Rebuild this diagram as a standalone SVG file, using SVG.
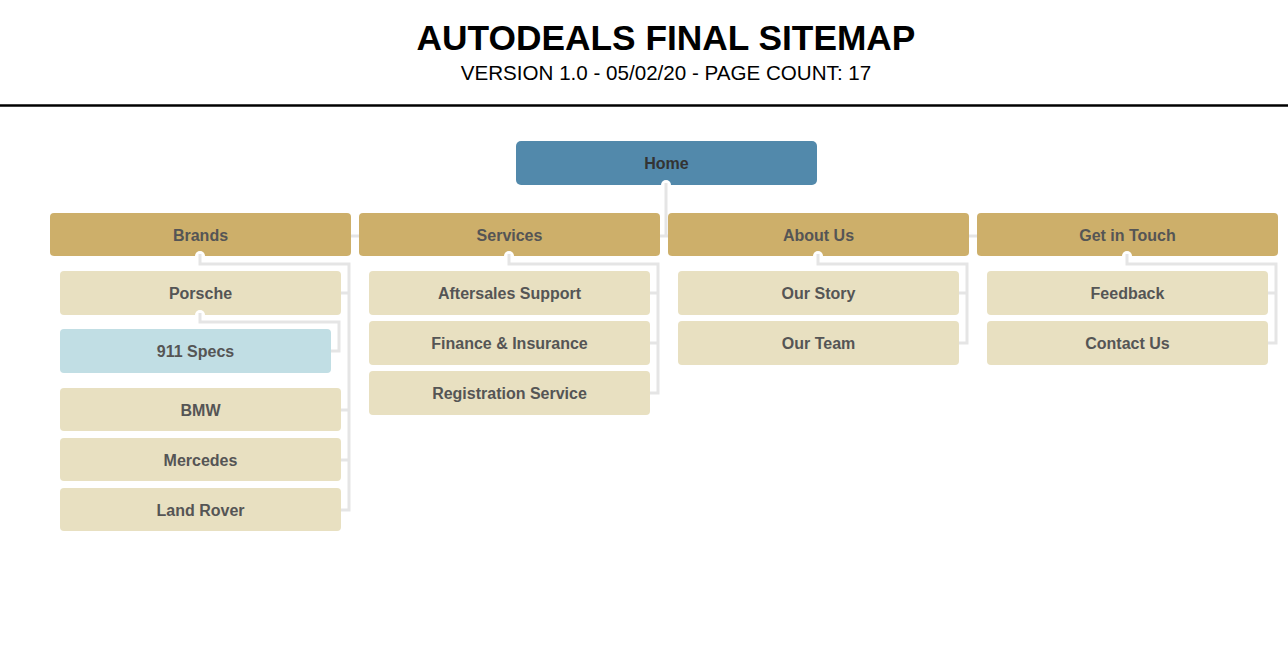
<svg xmlns="http://www.w3.org/2000/svg" width="1288" height="660" viewBox="0 0 1288 660">
<style>
.t{font-family:"Liberation Sans",Arial,sans-serif;font-weight:bold;font-size:16px;text-anchor:middle;dominant-baseline:central}
.home{fill:#5289ab}
.l1{fill:#cdaf6a}
.l2{fill:#e8e0c1}
.l3{fill:#c1dee4}
.c{fill:none;stroke:#e5e5e5;stroke-width:3}
.dot{fill:#ffffff}
</style>
<rect width="1288" height="660" fill="#ffffff"/>
<text x="666" y="50" style="font-family:'Liberation Sans',Arial,sans-serif;font-weight:bold;font-size:35.3px;text-anchor:middle" fill="#000">AUTODEALS FINAL SITEMAP</text>
<text x="666" y="80" style="font-family:'Liberation Sans',Arial,sans-serif;font-size:20.6px;text-anchor:middle" fill="#000">VERSION 1.0 - 05/02/20 - PAGE COUNT: 17</text>
<line x1="0" y1="105.5" x2="1288" y2="105.5" stroke="#000" stroke-width="2.5"/>
<g id="nodes">
<g id="home"><rect class="home" x="516" y="141" width="301" height="44" rx="5"/><text class="t" x="666.5" y="163" fill="#333">Home</text></g>
<g id="brands"><rect class="l1" x="50" y="213" width="301" height="43" rx="4"/><text class="t" x="200.5" y="235" fill="#555">Brands</text></g>
<g id="services"><rect class="l1" x="359" y="213" width="301" height="43" rx="4"/><text class="t" x="509.5" y="235" fill="#555">Services</text></g>
<g id="about"><rect class="l1" x="668" y="213" width="301" height="43" rx="4"/><text class="t" x="818.5" y="235" fill="#555">About Us</text></g>
<g id="touch"><rect class="l1" x="977" y="213" width="301" height="43" rx="4"/><text class="t" x="1127.5" y="235" fill="#555">Get in Touch</text></g>
<g id="porsche"><rect class="l2" x="60" y="271" width="281" height="44" rx="4"/><text class="t" x="200.5" y="293" fill="#555">Porsche</text></g>
<g id="specs"><rect class="l3" x="60" y="329" width="271" height="44" rx="4"/><text class="t" x="195.5" y="351" fill="#555">911 Specs</text></g>
<g id="bmw"><rect class="l2" x="60" y="388" width="281" height="43" rx="4"/><text class="t" x="200.5" y="410" fill="#555">BMW</text></g>
<g id="mercedes"><rect class="l2" x="60" y="438" width="281" height="43" rx="4"/><text class="t" x="200.5" y="460" fill="#555">Mercedes</text></g>
<g id="landrover"><rect class="l2" x="60" y="488" width="281" height="43" rx="4"/><text class="t" x="200.5" y="510" fill="#555">Land Rover</text></g>
<g id="aftersales"><rect class="l2" x="369" y="271" width="281" height="44" rx="4"/><text class="t" x="509.5" y="293" fill="#555">Aftersales Support</text></g>
<g id="finance"><rect class="l2" x="369" y="321" width="281" height="44" rx="4"/><text class="t" x="509.5" y="343" fill="#555">Finance &amp; Insurance</text></g>
<g id="registration"><rect class="l2" x="369" y="371" width="281" height="44" rx="4"/><text class="t" x="509.5" y="393" fill="#555">Registration Service</text></g>
<g id="story"><rect class="l2" x="678" y="271" width="281" height="44" rx="4"/><text class="t" x="818.5" y="293" fill="#555">Our Story</text></g>
<g id="team"><rect class="l2" x="678" y="321" width="281" height="44" rx="4"/><text class="t" x="818.5" y="343" fill="#555">Our Team</text></g>
<g id="feedback"><rect class="l2" x="987" y="271" width="281" height="44" rx="4"/><text class="t" x="1127.5" y="293" fill="#555">Feedback</text></g>
<g id="contact"><rect class="l2" x="987" y="321" width="281" height="44" rx="4"/><text class="t" x="1127.5" y="343" fill="#555">Contact Us</text></g>
</g>
<g id="connectors">
<circle class="dot" cx="666" cy="185" r="5"/>
<path class="c" d="M666,183 V236 M351,236 H359 M660,236 H668 M969,236 H977"/>
<circle class="dot" cx="200" cy="256" r="5"/>
<path class="c" d="M200,254 V264 H349 V510 H341 M341,293 H349 M341,410 H349 M341,460 H349"/>
<circle class="dot" cx="200" cy="315" r="5"/>
<path class="c" d="M200,313 V322 H339 V351 H331"/>
<circle class="dot" cx="509" cy="256" r="5"/>
<path class="c" d="M509,254 V264 H658 V393 H650 M650,293 H658 M650,343 H658"/>
<circle class="dot" cx="818" cy="256" r="5"/>
<path class="c" d="M818,254 V264 H967 V343 H959 M959,293 H967"/>
<circle class="dot" cx="1127" cy="256" r="5"/>
<path class="c" d="M1127,254 V264 H1276 V343 H1268 M1268,293 H1276"/>
</g>
</svg>
